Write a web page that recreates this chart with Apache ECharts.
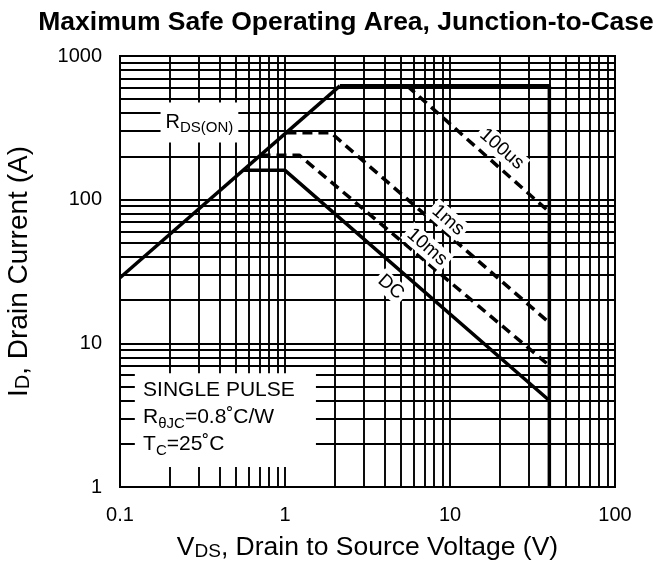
<!DOCTYPE html>
<html lang="en">
<head>
<meta charset="UTF-8">
<title>Maximum Safe Operating Area, Junction-to-Case</title>
<script src="https://cdn.jsdelivr.net/npm/echarts@6.0.0/dist/echarts.min.js"></script>
<style>
    html, body { margin: 0; padding: 0; background: #fff; }
    #chart { width: 654px; height: 567px; }
</style>
</head>
<body>
<div id="chart"></div>
<script>
    // axis decades (tick labels)
    const xTicks = [0.1, 1, 10, 100];
    const yTicks = [1, 10, 100, 1000];
    const gridSteps = [1, 2, 3, 4, 5, 6, 7, 8, 9];

    // SOA boundaries, [V_DS (V), I_D (A)]
    const rdsOnLimit = [[0.1, 28.6], [2.15, 620]];
    const currentLimit = [[2.15, 620], [40, 620], [40, 1]];
    const dcLine = [[0.56, 160], [1.0, 160], [40, 4.0]];
    const ms10Line = [[0.71, 204], [1.22, 204], [40, 7.0]];
    const ms1Line = [[1.02, 292], [1.9, 292], [40, 13.9]];
    const us100Line = [[5.5, 620], [40, 82]];

    // slanted curve labels, anchored in data units
    const curveLabels = [
        { text: '100us', at: [20.6, 225] },
        { text: '1ms', at: [9.73, 72] },
        { text: '10ms', at: [7.26, 46.8] },
        { text: 'DC', at: [4.38, 24.6] }
    ];
    const rdsLabelAt = [0.303, 344];
    const noteBox = [[0.123, 6.2], [1.54, 1.38]];
    const noteTextAt = [0.138, 6.2];

    const FONT = '"Liberation Sans", Arial, sans-serif';
    const black = '#000';

    // log grid lines (every 1..9 of each decade)
    const vGrid = [];
    const hGrid = [];
    xTicks.slice(0, -1).forEach(d => gridSteps.forEach(m => {
        const v = d * m;
        if (m > 1 || d > xTicks[0]) vGrid.push({ coords: [[v, yTicks[0]], [v, yTicks[yTicks.length - 1]]] });
    }));
    yTicks.slice(0, -1).forEach(d => gridSteps.forEach(m => {
        const v = d * m;
        if (m > 1 || d > yTicks[0]) hGrid.push({ coords: [[xTicks[0], v], [xTicks[xTicks.length - 1], v]] });
    }));

    function curve(name, data, dashed) {
        return {
            name: name,
            type: 'line',
            data: data,
            symbol: 'none',
            z: 5,
            silent: true,
            lineStyle: { color: black, width: 3.5, type: dashed ? [10, 6] : 'solid', cap: 'butt' }
        };
    }

    function labelFor(v, list) {
        let best = list[0];
        list.forEach(t => { if (Math.abs(Math.log10(t) - Math.log10(v)) < Math.abs(Math.log10(best) - Math.log10(v))) best = t; });
        return String(best);
    }

    function subRich(size) {
        return {
            n: { fontFamily: FONT, fontSize: size, color: black },
            s: { fontFamily: FONT, fontSize: Math.round(size * 0.7), color: black, verticalAlign: 'bottom' }
        };
    }

    const chart = echarts.init(document.getElementById('chart'));

    chart.setOption({
        animation: false,
        backgroundColor: '#fff',
        title: {
            text: 'Maximum Safe Operating Area, Junction-to-Case',
            left: 341,
            textAlign: 'center',
            top: 4,
            textStyle: { fontFamily: FONT, fontSize: 26.5, fontWeight: 'bold', color: black }
        },
        grid: {
            left: 120, right: 39, top: 56, bottom: 80,
            containLabel: false, outerBoundsMode: 'none',
            show: true, borderColor: black, borderWidth: 2, backgroundColor: '#fff'
        },
        xAxis: {
            type: 'log', logBase: 10, min: xTicks[0], max: xTicks[xTicks.length - 1],
            name: '{n|V}{s|DS}{n|, Drain to Source Voltage (V)}',
            nameLocation: 'middle', nameGap: 47,
            nameTextStyle: { rich: subRich(26.5) },
            axisLine: { lineStyle: { color: black, width: 2 } },
            axisTick: { show: false },
            splitLine: { show: false },
            axisLabel: {
                margin: 18, fontFamily: FONT, fontSize: 20, color: black,
                formatter: v => labelFor(v, xTicks)
            }
        },
        yAxis: {
            type: 'log', logBase: 10, min: yTicks[0], max: yTicks[yTicks.length - 1],
            name: '{n|I}{s|D}{n|, Drain Current (A)}',
            nameLocation: 'middle', nameGap: 87,
            nameTextStyle: { rich: subRich(28) },
            axisLine: { lineStyle: { color: black, width: 2 } },
            axisTick: { show: false },
            splitLine: { show: false },
            axisLabel: {
                margin: 18, fontFamily: FONT, fontSize: 20, color: black,
                formatter: v => labelFor(v, yTicks)
            }
        },
        series: [
            {
                type: 'lines', coordinateSystem: 'cartesian2d', silent: true, z: 1,
                lineStyle: { color: black, width: 1.9, opacity: 1 },
                data: vGrid.concat(hGrid)
            },
            curve('RDS(on)', rdsOnLimit, false),
            curve('Limit', currentLimit, false),
            curve('DC', dcLine, false),
            curve('10ms', ms10Line, true),
            curve('1ms', ms1Line, true),
            curve('100us', us100Line, true)
        ]
    });

    // annotations placed through the axis scales
    function placeNotes() {
        const px = p => chart.convertToPixel({ gridIndex: 0 }, p);
        const b0 = px(noteBox[0]);
        const b1 = px(noteBox[1]);
        const t0 = px(noteTextAt);
        const r0 = px(rdsLabelAt);
        const boxRich = {
            n: { fontFamily: FONT, fontSize: 21, color: black, lineHeight: 27 },
            s: { fontFamily: FONT, fontSize: 15, color: black, verticalAlign: 'bottom' }
        };
        const elements = [
            {
                type: 'rect', z: 20,
                shape: { x: b0[0], y: b0[1], width: b1[0] - b0[0], height: b1[1] - b0[1] },
                style: { fill: '#fff' }
            },
            {
                type: 'text', z: 21, x: t0[0], y: t0[1] + 4,
                style: {
                    text: '{n|SINGLE PULSE}\n{n|R}{s|θJC}{n|=0.8˚C/W}\n{n|T}{s|C}{n|=25˚C}',
                    rich: boxRich, align: 'left', verticalAlign: 'top'
                }
            },
            {
                type: 'text', z: 21, x: r0[0], y: r0[1],
                style: {
                    text: '{n|R}{s|DS(ON)}',
                    rich: {
                        n: { fontFamily: FONT, fontSize: 20, color: black, lineHeight: 26 },
                        s: { fontFamily: FONT, fontSize: 15, color: black, verticalAlign: 'bottom' }
                    },
                    align: 'center', verticalAlign: 'middle',
                    backgroundColor: '#fff', padding: [7, 5, 7, 5]
                }
            }
        ];
        const angle = -Math.atan2(
            px([1, 1])[1] - px([1, 10])[1],
            px([10, 1])[0] - px([1, 1])[0]
        );
        curveLabels.forEach(l => {
            const p = px(l.at);
            elements.push({
                type: 'text', z: 22, x: p[0], y: p[1], rotation: angle,
                style: {
                    text: l.text, fontFamily: FONT, fontSize: 19, fill: black,
                    align: 'center', verticalAlign: 'middle',
                    backgroundColor: '#fff', padding: [1, 3, 1, 3]
                }
            });
        });
        chart.setOption({ graphic: elements });
    }
    placeNotes();

    window.addEventListener('resize', function () {
        chart.resize();
        placeNotes();
    });
</script>
</body>
</html>
